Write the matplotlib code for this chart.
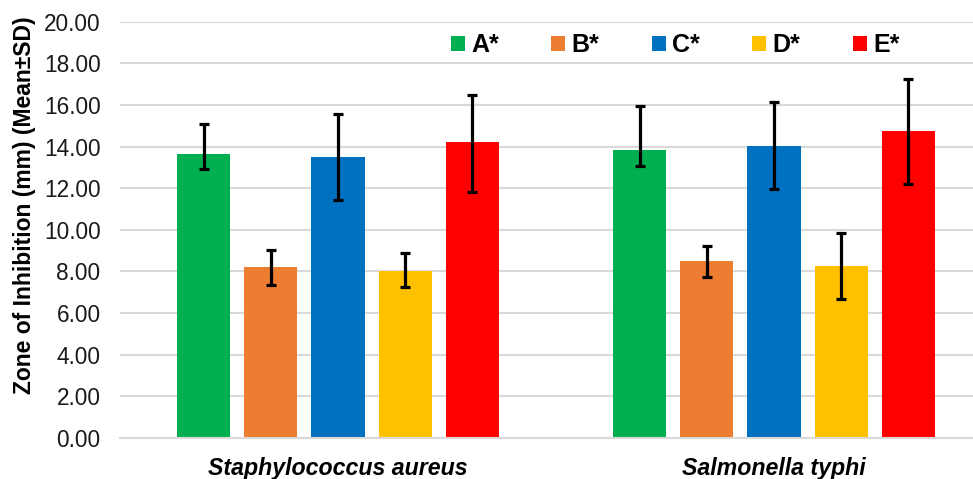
import numpy as np
import matplotlib
matplotlib.use("Agg")
from matplotlib import pyplot as plt

plt.rcParams["font.family"] = ["Liberation Sans", "DejaVu Sans"]

organisms = ["Staphylococcus aureus", "Salmonella typhi"]
series = ["A*", "B*", "C*", "D*", "E*"]
colors = ["#00B050", "#ED7D31", "#0070C0", "#FFC000", "#FF0000"]

# mean values per series, [S. aureus, S. typhi]
means = {
    "A*": [13.65, 13.82],
    "B*": [8.19, 8.50],
    "C*": [13.51, 14.04],
    "D*": [8.03, 8.26],
    "E*": [14.20, 14.75],
}
# error bar extents (lower, upper)
err_low = {
    "A*": [0.75, 0.77],
    "B*": [0.85, 0.77],
    "C*": [2.07, 2.07],
    "D*": [0.77, 1.61],
    "E*": [2.39, 2.54],
}
err_high = {
    "A*": [1.45, 2.11],
    "B*": [0.81, 0.73],
    "C*": [2.05, 2.10],
    "D*": [0.84, 1.57],
    "E*": [2.29, 2.50],
}

fig = plt.figure(figsize=(9.73, 4.79), dpi=100)
ax = fig.add_axes([120 / 973, 1 - 437.7 / 479, 1 - 120 / 973, (437.7 - 21.7) / 479])

x = np.arange(len(organisms))
step = 0.1537
width = 0.1216
handles = []
for i, s in enumerate(series):
    pos = x + (i - 2) * step
    b = ax.bar(pos, means[s], width, color=colors[i], label=s, zorder=2)
    ax.errorbar(pos, means[s], yerr=[err_low[s], err_high[s]], fmt="none",
                ecolor="black", elinewidth=2.3, capsize=3.3, capthick=2.3, zorder=3)
    handles.append(b)

ax.set_xlim(-0.5, -0.5 + (973 - 120) / 436)
ax.set_ylim(0, 20)
ax.set_yticks(np.arange(0, 21, 2))
ax.set_yticklabels([f"{v:.2f}" for v in np.arange(0, 21, 2)], fontsize=16.3, color="#1a1a1a")
ax.set_xticks(x)
ax.set_xticklabels(organisms, fontsize=16.7, fontweight="bold", fontstyle="italic")
ax.tick_params(axis="both", length=0)
ax.tick_params(axis="y", pad=14)
ax.tick_params(axis="x", pad=14)
ax.yaxis.grid(True, color="#d9d9d9", linewidth=1.5, zorder=0)
ax.set_axisbelow(True)
for side in ["top", "right", "left"]:
    ax.spines[side].set_visible(False)
ax.spines["bottom"].set_color("#d9d9d9")
ax.spines["bottom"].set_linewidth(1.5)

ax.set_ylabel("Zone of Inhibition (mm) (Mean±SD)", fontsize=16.5, fontweight="bold")
ax.yaxis.set_label_coords(-0.098, 0.559)

leg = ax.legend(handles=handles, loc="center", bbox_to_anchor=((675 - 120) / 853, (437.7 - 45) / 416),
                ncol=5, frameon=False, handlelength=0.56, handleheight=0.56, handletextpad=0.25,
                columnspacing=2.1, prop={"weight": "bold", "size": 18})

fig.savefig("out.png", dpi=100)
